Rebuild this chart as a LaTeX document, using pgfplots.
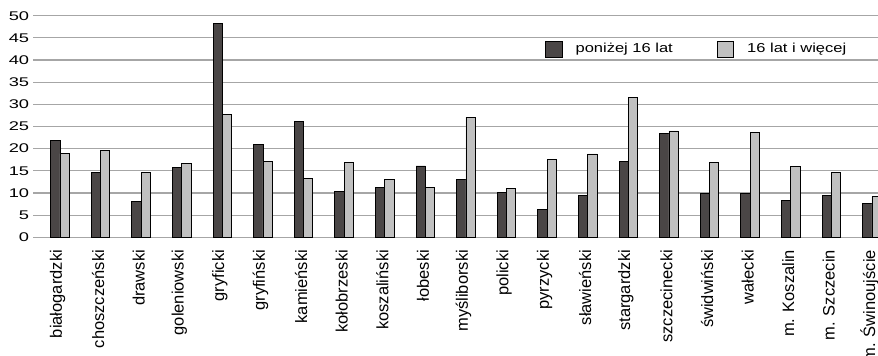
\documentclass[border=0pt]{standalone}
\usepackage{pgfplots}
\usepackage{pgfplotstable}
\pgfplotsset{compat=1.18}
\usepackage{fontspec}
\setmainfont{Liberation Sans}
\newfontfamily\yfont{Liberation Sans}[FakeStretch=1.45]
\newfontfamily\legfont{Liberation Sans}[FakeStretch=1.27]
\definecolor{darkbar}{HTML}{4A4646}
\definecolor{lightbar}{HTML}{C0C0C0}
\definecolor{gridc}{HTML}{A6A6A6}

\pgfplotstableread{
x a b
0 21.8 18.9
1 14.6 19.6
2 8.0 14.7
3 15.8 16.6
4 48.3 27.7
5 21.0 17.2
6 26.2 13.3
7 10.4 16.9
8 11.2 13.0
9 16.1 11.3
10 13.0 27.1
11 10.2 11.0
12 6.2 17.6
13 9.5 18.8
14 17.1 31.5
15 23.5 24.0
16 9.9 16.8
17 9.8 23.7
18 8.3 15.9
19 9.5 14.6
20 7.7 9.2
}\datatable

\begin{document}
\begin{tikzpicture}
\useasboundingbox (0,0) rectangle (878pt,356pt);
\begin{axis}[
  at={(33pt,118.7pt)}, anchor=south west,
  scale only axis,
  width=845pt, height=221.6pt,
  xmin=-0.665, xmax=20.15,
  ymin=0, ymax=50,
  ytick={0,5,...,50},
  xtick={0,...,20},
  xticklabels={białogardzki, choszczeński, drawski, goleniowski, gryficki, gryfiński, kamieński, kołobrzeski, koszaliński, łobeski, myśliborski, policki, pyrzycki, sławieński, stargardzki, szczecinecki, świdwiński, wałecki, m. Koszalin, m. Szczecin, m. Świnoujście},
  enlargelimits=false,
  axis line style={draw=none},
  major tick length=0pt,
  tick style={draw=none},
  ymajorgrids,
  major grid style={draw=gridc, line width=1.2pt},
  /pgf/number format/assume math mode=true,
  yticklabel style={font=\yfont\fontsize{12.6}{14}\selectfont, inner sep=0pt, xshift=-3.7pt, anchor=east},
  xticklabel style={xshift=-2.5pt, rotate=90, anchor=east, inner xsep=12.5pt, inner ysep=0pt, font=\fontsize{16.5}{18}\selectfont},
  ybar=0pt,
  bar width=9.3pt,
  legend columns=2,
  legend style={at={(0.606,0.85)}, anchor=west, draw=none, fill=none, inner sep=0pt,
    font=\legfont\fontsize{13}{15}\selectfont,
    /tikz/every odd column/.append style={column sep=11pt},
    /tikz/every even column/.append style={column sep=42pt}},
  legend cell align=left,
  legend image code/.code={\draw[#1,line width=0.8pt] (0pt,-8pt) rectangle (16.5pt,8pt);},
]
\addplot[fill=darkbar, draw=black, line width=0.8pt] table[x=x, y=a] {\datatable};
\addplot[fill=lightbar, draw=black, line width=0.8pt] table[x=x, y=b] {\datatable};
\legend{poniżej 16 lat, 16 lat i więcej}
\end{axis}
\end{tikzpicture}
\end{document}
